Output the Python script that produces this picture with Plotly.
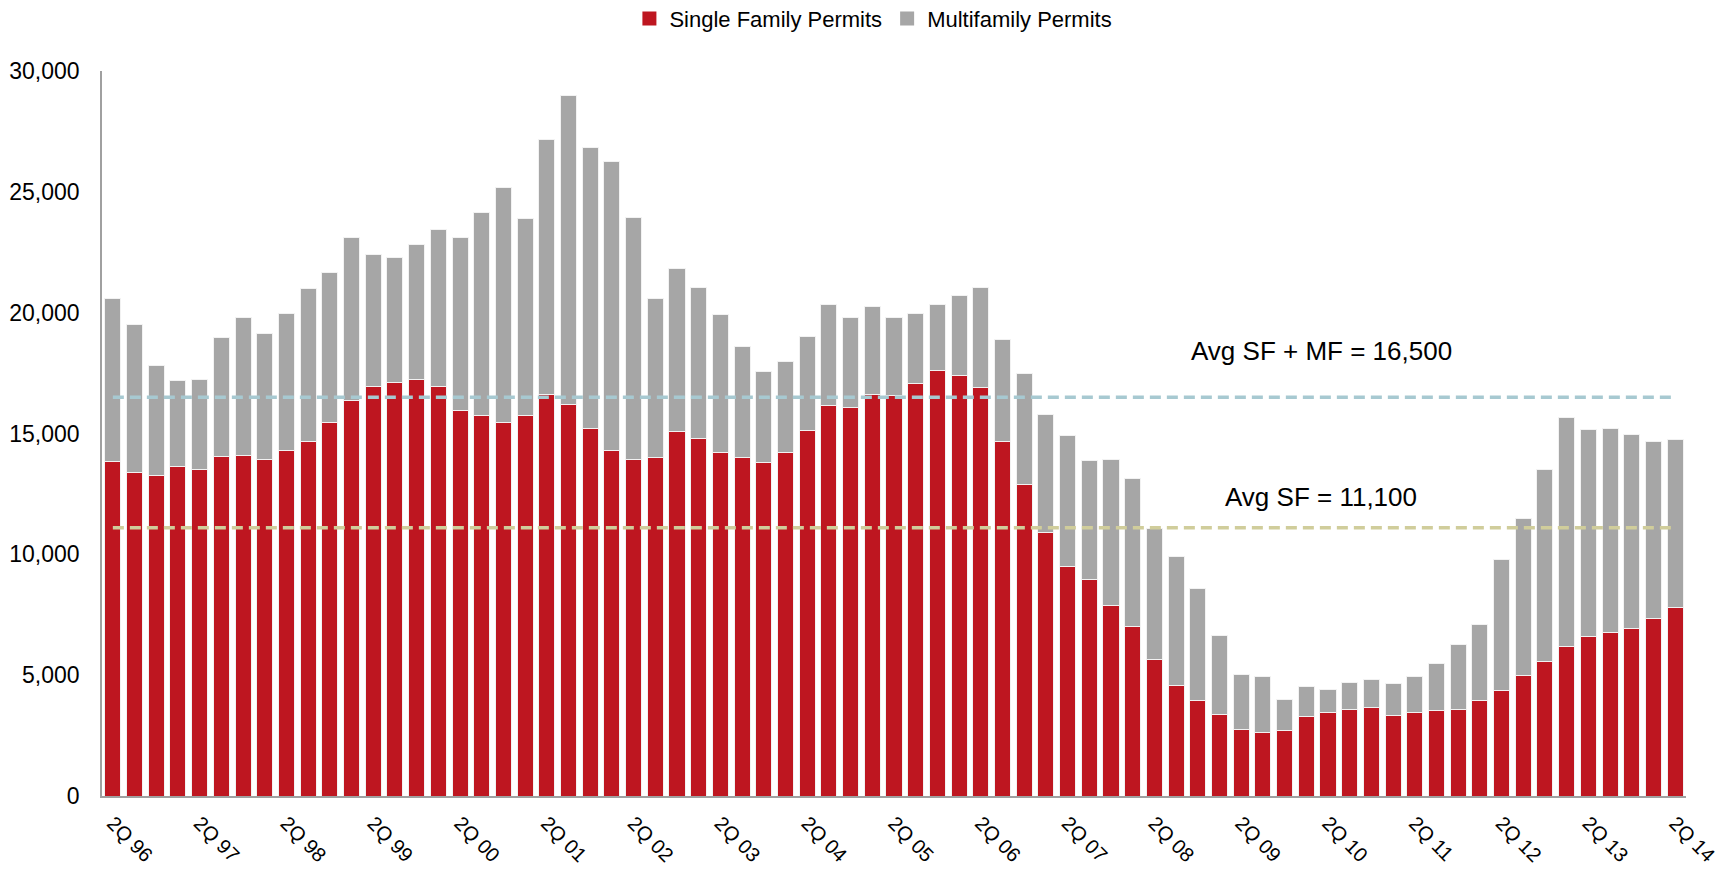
import plotly.graph_objects as go

quarters = [
    "2Q 96", "3Q 96", "4Q 96",
    "1Q 97", "2Q 97", "3Q 97", "4Q 97",
    "1Q 98", "2Q 98", "3Q 98", "4Q 98",
    "1Q 99", "2Q 99", "3Q 99", "4Q 99",
    "1Q 00", "2Q 00", "3Q 00", "4Q 00",
    "1Q 01", "2Q 01", "3Q 01", "4Q 01",
    "1Q 02", "2Q 02", "3Q 02", "4Q 02",
    "1Q 03", "2Q 03", "3Q 03", "4Q 03",
    "1Q 04", "2Q 04", "3Q 04", "4Q 04",
    "1Q 05", "2Q 05", "3Q 05", "4Q 05",
    "1Q 06", "2Q 06", "3Q 06", "4Q 06",
    "1Q 07", "2Q 07", "3Q 07", "4Q 07",
    "1Q 08", "2Q 08", "3Q 08", "4Q 08",
    "1Q 09", "2Q 09", "3Q 09", "4Q 09",
    "1Q 10", "2Q 10", "3Q 10", "4Q 10",
    "1Q 11", "2Q 11", "3Q 11", "4Q 11",
    "1Q 12", "2Q 12", "3Q 12", "4Q 12",
    "1Q 13", "2Q 13", "3Q 13", "4Q 13",
    "1Q 14", "2Q 14",
]

single_family = [
    13850, 13400, 13280, 13620, 13500, 14060, 14090, 13910, 14280, 14680,
    15450, 16350, 16930, 17090, 17220, 16930, 15940, 15740, 15440, 15730,
    16600, 16220, 15200, 14310, 13910, 13990, 15070, 14790, 14230, 13990,
    13790, 14200, 15110, 16160, 16060, 16600, 16560, 17050, 17590, 17410,
    16890, 14655, 12910, 10890, 9515, 8950, 7900, 7030, 5665, 4590,
    3945, 3390, 2755, 2620, 2690, 3310, 3475, 3600, 3680, 3340,
    3445, 3555, 3600, 3970, 4370, 4990, 5585, 6205, 6605, 6770,
    6935, 7350, 7805,
]

multifamily = [
    6750, 6100, 4520, 3580, 3750, 4910, 5710, 5240, 5670, 6320,
    6200, 6770, 5490, 5210, 5610, 6520, 7180, 8390, 9730, 8170,
    10580, 12780, 11630, 11950, 10040, 6600, 6760, 6260, 5680, 4600,
    3770, 3760, 3890, 4160, 3720, 3640, 3250, 2930, 2760, 3310,
    4160, 4215, 4560, 4895, 5415, 4930, 6030, 6110, 5405, 5340,
    4650, 3255, 2290, 2315, 1310, 1225, 935, 1090, 1145, 1305,
    1490, 1920, 2660, 3145, 5405, 6495, 7925, 9455, 8545, 8425,
    8025, 7305, 6945,
]

tick_labels = [
    "2Q 96", "2Q 97", "2Q 98", "2Q 99", "2Q 00", "2Q 01", "2Q 02",
    "2Q 03", "2Q 04", "2Q 05", "2Q 06", "2Q 07", "2Q 08", "2Q 09",
    "2Q 10", "2Q 11", "2Q 12", "2Q 13", "2Q 14",
]

y_ticks = [0, 5000, 10000, 15000, 20000, 25000, 30000]

avg_total = 16500
avg_sf = 11100
avg_total_label = "Avg SF + MF = 16,500"
avg_sf_label = "Avg SF = 11,100"

FONT = "Liberation Sans, Arial, sans-serif"
RED = "#BE1620"
GRAY = "#A6A6A6"
AXIS = "#A0A0A0"

fig = go.Figure()
fig.add_trace(go.Bar(
    x=quarters, y=single_family, name="Single Family Permits",
    marker=dict(color=RED, line=dict(color="#F2F2F2", width=1)),
    showlegend=False,
))
fig.add_trace(go.Bar(
    x=quarters, y=multifamily, name="Multifamily Permits",
    marker=dict(color=GRAY, line=dict(color="#F2F2F2", width=1)),
    showlegend=False,
))
# legend swatches (square markers like the reference)
fig.add_trace(go.Scatter(
    x=[None], y=[None], mode="markers", name="Single Family Permits",
    marker=dict(symbol="square", size=14, color=RED),
))
fig.add_trace(go.Scatter(
    x=[None], y=[None], mode="markers", name="Multifamily Permits",
    marker=dict(symbol="square", size=14, color=GRAY),
))
fig.add_trace(go.Scatter(
    x=[quarters[0], quarters[-1]], y=[avg_total, avg_total], mode="lines",
    line=dict(color="#A7C9D1", width=3.5, dash="11px,6px"),
    showlegend=False, hoverinfo="skip",
))
fig.add_trace(go.Scatter(
    x=[quarters[0], quarters[-1]], y=[avg_sf, avg_sf], mode="lines",
    line=dict(color="#D0CD9B", width=3.5, dash="11px,6px"),
    showlegend=False, hoverinfo="skip",
))

fig.add_annotation(
    x=0.7696, xref="paper", y=18400, yref="y", text=avg_total_label,
    showarrow=False, font=dict(family=FONT, size=26, color="black"),
    xanchor="center", yanchor="middle",
)
fig.add_annotation(
    x=0.7696, xref="paper", y=12370, yref="y", text=avg_sf_label,
    showarrow=False, font=dict(family=FONT, size=26, color="black"),
    xanchor="center", yanchor="middle",
)

fig.update_layout(
    width=1725, height=865,
    margin=dict(l=94, r=47, t=63, b=77, autoexpand=False),
    barmode="stack", bargap=0.26,
    plot_bgcolor="white", paper_bgcolor="white",
    font=dict(family=FONT, size=22, color="black"),
    legend=dict(
        orientation="h", x=0.487, xanchor="center", y=1.072, yanchor="middle",
        font=dict(family=FONT, size=22, color="black"),
        traceorder="normal", itemwidth=30,
    ),
    xaxis=dict(
        type="category", range=[-0.5, 72.5], automargin=False,
        tickmode="array", tickvals=tick_labels, ticktext=tick_labels,
        tickangle=45, ticks="", showline=True, linecolor=AXIS, linewidth=1.5,
        showgrid=False, zeroline=False, ticklabelstandoff=6,
        tickfont=dict(family=FONT, size=20, color="black"),
    ),
    yaxis=dict(
        range=[0, 30000], tickmode="array", tickvals=y_ticks, automargin=False,
        tickformat=",", ticks="", showline=True, linecolor=AXIS, linewidth=1.5,
        showgrid=False, zeroline=False, ticklabelstandoff=16,
        tickfont=dict(family=FONT, size=23, color="black"),
    ),
)

fig.write_html("out.html")
